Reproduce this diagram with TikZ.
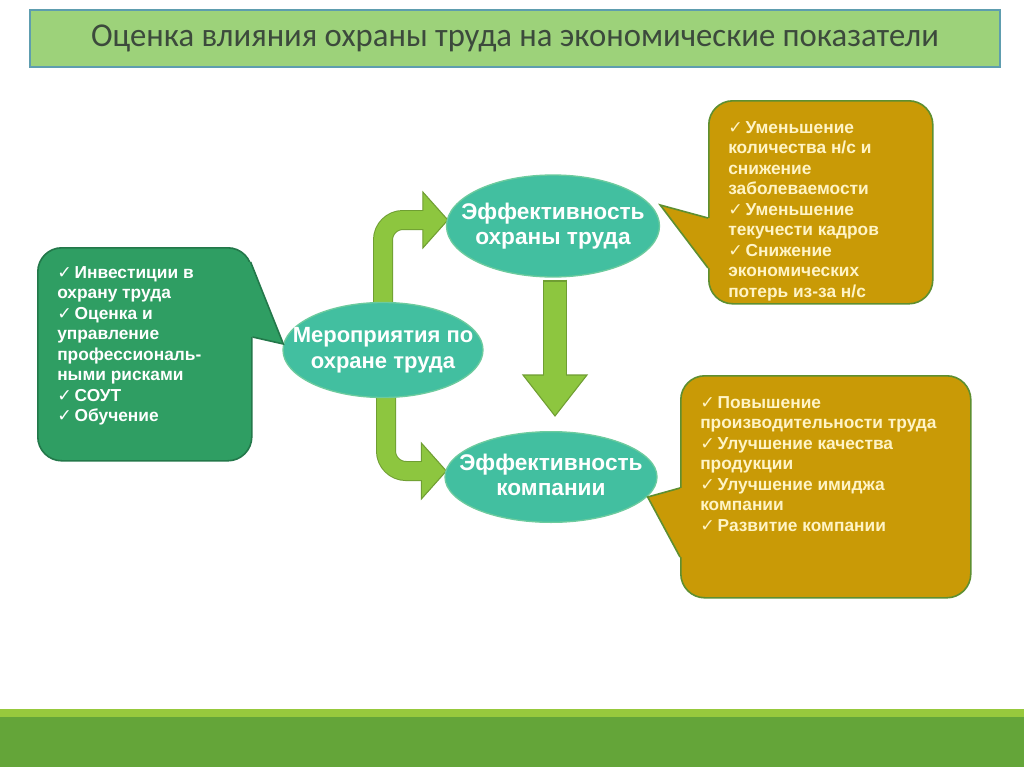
\documentclass[tikz,border=0pt]{standalone}
\usepackage{fontspec}
\setmainfont{Liberation Sans}
\newfontfamily\titlefont[FakeStretch=0.98]{Carlito}
\newfontfamily\symfont{DejaVu Sans}
\usetikzlibrary{calc,backgrounds,shapes.geometric}
\definecolor{titlegreen}{HTML}{9DD27A}
\definecolor{titleframe}{HTML}{5E9DAF}
\definecolor{titleink}{HTML}{3C4A3C}
\definecolor{invgreen}{HTML}{2F9E63}
\definecolor{invframe}{HTML}{23784A}
\definecolor{ovalteal}{HTML}{42BFA0}
\definecolor{ovalframe}{HTML}{6CCB9E}
\definecolor{arrowgreen}{HTML}{8DC63F}
\definecolor{arrowframe}{HTML}{6F9E32}
\definecolor{goldbox}{HTML}{C99A06}
\definecolor{goldframe}{HTML}{5E8F30}
\definecolor{goldink}{HTML}{FFF4C6}
\definecolor{barlight}{HTML}{97C93D}
\definecolor{bardark}{HTML}{64A539}

\newcommand{\chk}{{\symfont\mdseries ✓}\,}

\begin{document}
\begin{tikzpicture}[
  x=0.75pt, y=-0.75pt,
  infobox/.style={
    rounded corners=18pt,
    line width=1.2pt,
    anchor=north west,
    inner sep=0pt
  },
  oval/.style={
    ellipse,
    fill=ovalteal,
    draw=ovalframe,
    line width=1pt,
    inner sep=0pt
  },
  ovaltext/.style={
    inner sep=0pt,
    text=white,
    align=center,
    font=\bfseries\fontsize{17}{19}\selectfont
  },
  itemtext/.style={
    anchor=north west,
    align=left,
    inner sep=0pt,
    font=\bfseries\fontsize{13}{15.4}\selectfont
  },
  shaftout/.style={draw=arrowframe, line width=#1+1.5pt},
  shaftin/.style={draw=arrowgreen, line width=#1},
  fathead/.style={fill=arrowgreen, draw=arrowframe, line width=0.8pt, line join=miter}
]

  \useasboundingbox (0,0) rectangle (1024,767);
  \begin{scope}[on background layer]
    \fill[white] (0,0) rectangle (1024,767);
  \end{scope}

  % --- TITLE BANNER ---
  \node[fill=titlegreen, draw=titleframe, line width=1.2pt, minimum width=727.5pt, minimum height=42.75pt, inner sep=0pt,
        text=titleink, font=\titlefont\fontsize{25}{28}\selectfont] (title) at (515,38.5)
    {Оценка влияния охраны труда на экономические показатели};

  % --- CENTRAL OVALS ---
  \node[oval, minimum width=150pt, minimum height=71.25pt] (mer) at (383,350) {};
  \node[ovaltext, font=\bfseries\fontsize{16.5}{19.5}\selectfont] (mertxt) at (mer.center) {Мероприятия по\\охране труда};
  \node[oval, minimum width=159.75pt, minimum height=76.5pt] (eff1) at (553,226) {};
  \node[ovaltext] (eff1txt) at (eff1.center) {Эффективность\\охраны труда};
  \node[oval, minimum width=159pt, minimum height=68pt] (eff2) at (551,477) {};
  \node[ovaltext] (eff2txt) at ($(eff2.center)+(0,-2)$) {Эффективность\\компании};

  % --- FAT GREEN ARROWS (behind the ovals) ---
  \begin{scope}[on background layer]
    \coordinate (upfoot) at ($(mer.north)+(0,14)$);
    \coordinate (upend) at ($(eff1.west)+(-21,-6)$);
    \coordinate (dnfoot) at ($(mer.south)+(3,-14)$);
    \coordinate (dnend) at ($(eff2.west)+(-21,-6)$);
    \coordinate (midtop) at ($(eff1.south)+(2,2)$);
    \coordinate (midend) at ($(midtop |- eff2.north)+(0,-54)$);
    \coordinate (midtip) at ($(midtop |- eff2.north)+(0,-15)$);

    \draw[shaftout=13.5pt, rounded corners=15pt] (upfoot) |- (upend);
    \draw[shaftout=13.5pt, rounded corners=15pt] (dnfoot) |- (dnend);
    \draw[shaftout=16.5pt] (midtop) -- (midend);

    \filldraw[fathead] ($(upend)+(-2,-28)$) -- ($(eff1.west)+(2,-6)$) -- ($(upend)+(-2,28)$) -- cycle;
    \filldraw[fathead] ($(dnend)+(-2,-28)$) -- ($(eff2.west)+(2,-6)$) -- ($(dnend)+(-2,28)$) -- cycle;
    \filldraw[fathead] ($(midend)+(-32,-2)$) -- (midtip) -- ($(midend)+(32,-2)$) -- cycle;

    \draw[shaftin=13.5pt, rounded corners=15pt] (upfoot) |- ($(upend)+(2,0)$);
    \draw[shaftin=13.5pt, rounded corners=15pt] (dnfoot) |- ($(dnend)+(2,0)$);
    \draw[shaftin=16.5pt] ($(midtop)+(0,2)$) -- ($(midend)+(0,2)$);
  \end{scope}

  % --- LEFT CALLOUT: INPUTS ---
  \node[infobox, fill=invgreen, draw=invframe, minimum width=160.5pt, minimum height=159.75pt] (inv) at (37,247) {};
  \fill[invgreen] ($(inv.north east)+(-7,15)$) -- ($(inv.north east)+(-2,15)$) -- ($(mer.west)+(1,-6)$)
    -- ($(inv.north east)+(0,90)$) -- ($(inv.north east)+(-5,90)$) -- cycle;
  \draw[invframe, line width=1.2pt] ($(inv.north east)+(-2,15)$) -- ($(mer.west)+(1,-6)$) -- ($(inv.north east)+(0,90)$);
  \node[itemtext, text=white] (invtxt) at ($(inv.north west)+(20,19)$) {
    \chk Инвестиции в\\
    охрану труда\\
    \chk Оценка и\\
    управление\\
    профессиональ-\\
    ными рисками\\
    \chk СОУТ\\
    \chk Обучение};

  % --- RIGHT CALLOUT: SAFETY EFFECT ---
  \node[infobox, fill=goldbox, draw=goldframe, minimum width=168pt, minimum height=152.25pt] (safe) at (708,100) {};
  \fill[goldbox] ($(safe.north west)+(5,118)$) -- ($(safe.north west)+(0,118)$) -- ($(eff1.east)+(0,-21)$)
    -- ($(safe.north west)+(0,168)$) -- ($(safe.north west)+(5,168)$) -- cycle;
  \draw[goldframe, line width=1.2pt] ($(safe.north west)+(0,118)$) -- ($(eff1.east)+(0,-21)$) -- ($(safe.north west)+(0,168)$);
  \node[itemtext, text=goldink] (safetxt) at ($(safe.north west)+(20,21)$) {
    \chk Уменьшение\\
    количества н/с и\\
    снижение\\
    заболеваемости\\
    \chk Уменьшение\\
    текучести кадров\\
    \chk Снижение\\
    экономических\\
    потерь из-за н/с};

  % --- RIGHT CALLOUT: COMPANY EFFECT ---
  \node[infobox, fill=goldbox, draw=goldframe, minimum width=217.5pt, minimum height=166.5pt] (gain) at (680,375) {};
  \fill[goldbox] ($(gain.north west)+(5,113)$) -- ($(gain.north west)+(0,113)$) -- ($(eff2.east)+(-10,20)$)
    -- ($(gain.north west)+(0,182)$) -- ($(gain.north west)+(5,182)$) -- cycle;
  \draw[goldframe, line width=1.2pt] ($(gain.north west)+(0,113)$) -- ($(eff2.east)+(-10,20)$) -- ($(gain.north west)+(0,182)$);
  \node[itemtext, text=goldink] (gaintxt) at ($(gain.north west)+(20,21)$) {
    \chk Повышение\\
    производительности труда\\
    \chk Улучшение качества\\
    продукции\\
    \chk Улучшение имиджа\\
    компании\\
    \chk Развитие компании};

  % Bottom footer strip
  \fill[barlight] (0,709) rectangle (1024,717);
  \fill[bardark] (0,717) rectangle (1024,767);

\end{tikzpicture}
\end{document}
